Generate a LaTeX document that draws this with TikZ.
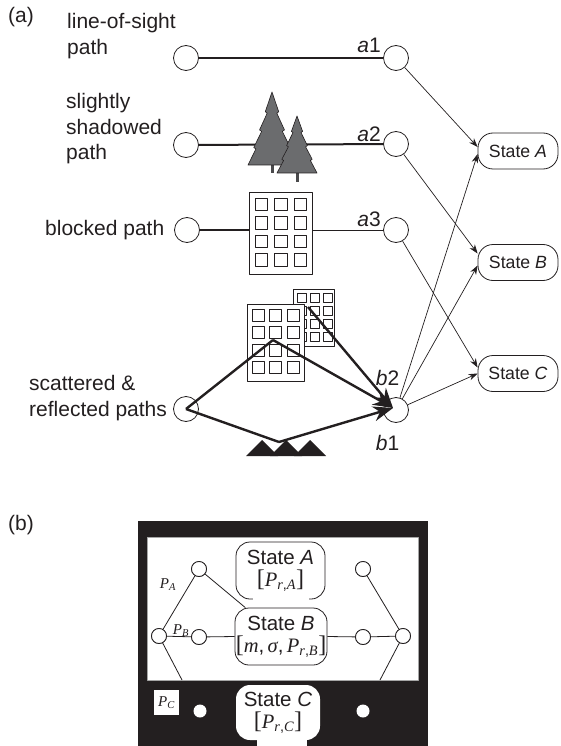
\documentclass[tikz,border=0pt]{standalone}
\usepackage{fontspec}
\setmainfont{Liberation Sans}
\newfontfamily\tms{Liberation Serif}
\usetikzlibrary{arrows.meta}
\definecolor{ink}{HTML}{231F20}
\definecolor{treegray}{HTML}{6B6C6E}
\definecolor{trunkgray}{HTML}{4A4A4C}
% square brackets set a little taller than the text they enclose
\newcommand\tallbrk[1]{{\tms\fontsize{24}{24}\selectfont[}#1{\tms\fontsize{24}{24}\selectfont]}}
\newcommand\ivar[1]{{\tms\itshape #1}}
\begin{document}
\begin{tikzpicture}[x=1pt,y=-1pt,line join=round,
  every node/.style={inner sep=0pt,text=ink},
  lbl/.style={font=\fontsize{21}{25.5}\selectfont,align=left},
  port/.style={circle,draw=ink,fill=white,line width=0.8pt,minimum size=25pt},
  state/.style={draw=ink,fill=white,rounded corners=15pt,line width=0.8pt,
    minimum width=80pt,minimum height=36pt,font=\fontsize{17.7}{20}\selectfont},
  arr/.style={draw=ink,line width=0.7pt,-{Stealth[length=9pt,width=6.5pt]}},
  heavy/.style={draw=ink,line width=2pt},
  scat/.style={draw=ink,line width=2.4pt},
  scatarr/.style={scat,-{Stealth[length=20pt,width=15pt]}},
  bldg/.style={draw=ink,fill=white,line width=1.3pt,anchor=north west},
  win/.style={draw=ink,line width=1pt},
  bport/.style={circle,draw=ink,fill=white,line width=0.8pt,minimum size=15pt},
  bline/.style={draw=ink,line width=0.8pt},
  bstate/.style={draw=ink,fill=white,rounded corners=14pt,line width=0.8pt,
    align=center,font=\fontsize{20.5}{22}\selectfont},
  plbl/.style={font=\tms\itshape\fontsize{15}{15}\selectfont},
  pics/pine/.style={code={
    \draw[trunkgray,line width=3pt] (0,0.95) -- (0,#1);
    \filldraw[fill=treegray,draw=ink,line width=0.6pt]
      (0,0) -- (-0.28,0.27) -- (-0.2,0.29) -- (-0.52,0.52) -- (-0.43,0.54)
      -- (-0.76,0.76) -- (-0.67,0.78) -- (-1,1) -- (1,1) -- (0.67,0.78)
      -- (0.76,0.76) -- (0.43,0.54) -- (0.52,0.52) -- (0.2,0.29)
      -- (0.28,0.27) -- cycle;
  }}
]
\useasboundingbox (0,0) rectangle (561,746);

% ---------------- (a) propagation paths ----------------
\node[lbl,anchor=west] (taga) at (8,17) {(a)};

\node[lbl,anchor=north west] (tlos) at (67,13.5) {line-of-sight\\path};
\node[lbl,anchor=north west] (tshd) at (66,93.5) {slightly\\shadowed\\path};
\node[lbl,anchor=west] (tblk) at (45,230) {blocked path};
\node[lbl,anchor=north west] (tsct) at (29,375.5) {scattered \&\\reflected paths};

% transmitter-side circles
\node[port] (los) at (186,58) {};
\node[port] (shd) at (186,145) {};
\node[port] (blk) at (187,230) {};
\node[port] (sct) at (186,409) {};

% receiver-side circles
\node[port] (a1) at (396,58) {};
\node[port] (a2) at (396,144) {};
\node[port] (a3) at (396,230) {};
\node[port] (bc) at (396,410) {};

\node[lbl] (la1) at (369,45) {\textit{a}1};
\node[lbl] (la2) at (369,134) {\textit{a}2};
\node[lbl] (la3) at (369,219) {\textit{a}3};
\node[lbl] (lb2) at (387.5,377.5) {\textit{b}2};
\node[lbl] (lb1) at (387.5,442.5) {\textit{b}1};

% states
\node[state] (stA) at (518,151) {State \textit{A}};
\node[state] (stB) at (518,262.5) {State \textit{B}};
\node[state] (stC) at (518,373.5) {State \textit{C}};

% direct and shadowed paths
\draw[heavy] (los) -- (a1);
\draw[heavy] (shd) -- (a2);
\pic at (272,92) [xscale=24,yscale=73] {pine=1.11};
\pic at (297,116) [xscale=20,yscale=57] {pine=1.16};

% blocked path through a building
\node[bldg,minimum width=63pt,minimum height=82pt] (bA) at (249,192) {};
\foreach \i in {0,1,2}
  \foreach \j in {0,1,2,3}
    \draw[win] ([shift={(6+19.5*\i,6+18.5*\j)}]bA.north west) rectangle ++(12.5,12.5);
\draw[heavy] (blk) -- (blk -| bA.west);
\draw[bline] (a3 -| bA.east) -- (a3);

% scattering buildings and ground
\node[bldg,minimum width=41pt,minimum height=57pt] (bC) at (293,289) {};
\foreach \i in {0,1,2}
  \foreach \j in {0,1,2,3}
    \draw[win,line width=0.9pt] ([shift={(4+13*\i,4+13*\j)}]bC.north west) rectangle ++(9,9);
\node[bldg,minimum width=57pt,minimum height=77pt] (bB) at (247,304) {};
\foreach \i in {0,1,2}
  \foreach \j in {0,1,2,3}
    \draw[win] ([shift={(5+17.5*\i,5+17.5*\j)}]bB.north west) rectangle ++(12,12);

\fill[ink] (246,456) -- (262,440) -- (278,456) -- cycle;
\fill[ink] (270,456) -- (286,440) -- (302,456) -- cycle;
\fill[ink] (294,456) -- (310,440) -- (326,456) -- cycle;

\coordinate (rfB) at (273,340);
\coordinate (rfC) at (308,307);
\coordinate (rfG) at (279,442);
\coordinate (tip) at (393,408);
\draw[scat] (sct.center) -- (rfB);
\draw[scatarr] (rfB) -- (tip);
\draw[scatarr] (rfC) -- (tip);
\draw[scat] (sct.center) -- (rfG);
\draw[scatarr] (rfG) -- (tip);

% transitions to the states
\draw[arr] (a1) -- ([yshift=4pt]stA.west);
\draw[arr] (a2) -- ([yshift=9pt]stB.west);
\draw[arr] (a3) -- ([yshift=6pt]stC.west);
\draw[arr] (bc) -- ([yshift=-3pt]stA.west);
\draw[arr] (bc) -- ([yshift=-3pt]stB.west);
\draw[arr] (bc) -- (stC.west);

% ---------------- (b) state model ----------------
\node[lbl,anchor=west] (tagb) at (8,525) {(b)};

\node[fill=ink,anchor=north west,minimum width=290pt,minimum height=225pt] (frame) at (138,521) {};
\node[fill=white,draw=gray!70,line width=0.8pt,anchor=north west,
      minimum width=271pt,minimum height=143pt] (pane) at (147,537) {};

\node[bport] (pL) at (159,636) {};
\node[bport] (pLA) at (199,569) {};
\node[bport] (pLB) at (199,637) {};
\node[bport] (pR) at (403,636) {};
\node[bport] (pRA) at (363,569) {};
\node[bport] (pRB) at (363,637) {};

\node[bstate,minimum width=89pt,minimum height=57pt] (sA) at (280.5,570.5)
  {State \textit{A}\\\tallbrk{\ivar{P}\textsubscript{\ivar{r},\ivar{A}}}};
\draw[white,line width=2.4pt] ([xshift=-28pt]sA.south) -- ([xshift=28pt]sA.south);
\node[bstate,minimum width=92pt,minimum height=57pt] (sB) at (281,636.5)
  {State \textit{B}\\\tallbrk{\ivar{m},\,\ivar{σ},\,\ivar{P}\textsubscript{\ivar{r},\ivar{B}}}};

\coordinate (pLd) at (182,680);
\coordinate (pRd) at (380,680);
\draw[bline] (pL) -- (pLA);
\draw[bline] (pLA) -- (sB.141.6);
\draw[bline] (pL) -- (pLB);
\draw[bline] (pLB) -- (sB.west);
\draw[bline] (pL) -- (pLd);
\draw[bline] (sB.east) -- (pRB);
\draw[bline] (pRB) -- (pR);
\draw[bline] (pRA) -- (pR);
\draw[bline] (pR) -- (pRd);
% redraw circles over line ends
\node[bport] at (pL) {};
\node[bport] at (pLA) {};
\node[bport] at (pLB) {};
\node[bport] at (pR) {};
\node[bport] at (pRA) {};
\node[bport] at (pRB) {};

\node[plbl] (lPA) at (168,585) {P\textsubscript{A}};
\node[plbl] (lPB) at (181,631) {P\textsubscript{B}};
\node[plbl,fill=white,minimum width=25pt,minimum height=25pt] (lPC) at (166.5,702.5) {P\textsubscript{C}};

\node[circle,fill=white,minimum size=13pt] (dL) at (200,711) {};
\node[circle,fill=white,minimum size=13pt] (dR) at (363,711) {};

% white ground under the State C text runs to the lower edge
\fill[white] (257,730) rectangle (307,746);
\node[bstate,draw=none,minimum width=84pt,minimum height=55pt] (sC) at (278,712.5)
  {State \textit{C}\\\tallbrk{\ivar{P}\textsubscript{\ivar{r},\ivar{C}}}};
\end{tikzpicture}
\end{document}
